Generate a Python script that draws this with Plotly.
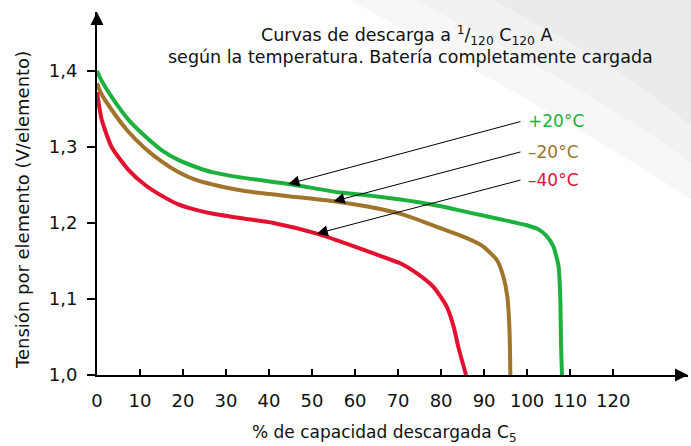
import numpy as np
import plotly.graph_objects as go

# ---- data ----
green_x = [0, 1, 3.4, 7.3, 11.2, 15, 18.9, 22.8, 26.7, 33.3, 44.9, 56.5, 63.5, 70.5, 75.1, 80, 86.3, 93.7, 99.9, 102.5, 104.5, 106.1, 107.3, 107.7, 107.9, 108.1]
green_y = [1.400, 1.388, 1.366, 1.336, 1.314, 1.296, 1.283, 1.274, 1.267, 1.260, 1.251, 1.240, 1.236, 1.231, 1.227, 1.222, 1.214, 1.205, 1.197, 1.192, 1.183, 1.169, 1.143, 1.103, 1.037, 1.000]

brown_x = [0, 1, 3.4, 7.3, 11.2, 15, 18.9, 22.8, 30.5, 34.4, 40.2, 44.9, 55.7, 63.5, 71.2, 79, 86, 89.8, 93, 94.5, 95.4, 95.9, 96.1]
brown_y = [1.384, 1.370, 1.349, 1.320, 1.298, 1.281, 1.267, 1.257, 1.246, 1.242, 1.238, 1.235, 1.228, 1.221, 1.211, 1.195, 1.180, 1.169, 1.151, 1.129, 1.103, 1.059, 1.000]

red_x = [0, 1.1, 3.4, 7.3, 11.2, 15, 18.9, 22.8, 26.7, 34.4, 41, 51.1, 60.4, 68.1, 70.5, 74.3, 78.2, 81.3, 82.9, 84, 85.8]
red_y = [1.372, 1.336, 1.300, 1.270, 1.250, 1.236, 1.2245, 1.2175, 1.2125, 1.2055, 1.200, 1.186, 1.168, 1.152, 1.147, 1.134, 1.116, 1.090, 1.064, 1.037, 1.000]

series_names = ["+20°C", "–20°C", "–40°C"]
x_ticks = [0, 10, 20, 30, 40, 50, 60, 70, 80, 90, 100, 110, 120]
y_ticks = [1.0, 1.1, 1.2, 1.3, 1.4]
y_ticktext = ["1,0", "1,1", "1,2", "1,3", "1,4"]

colors = ["#1cb13c", "#a0742a", "#e3102f"]
FONT = "DejaVu Sans"

# arrow tip x positions on curves, tail position (data coords)
arrow_tip_x = [44.5, 55.0, 51.1]
arrow_tail_x = 98.8
arrow_tail_y = [1.334, 1.294, 1.257]

fig = go.Figure()
for xs, ys, name, col in zip([green_x, brown_x, red_x], [green_y, brown_y, red_y], series_names, colors):
    fig.add_trace(go.Scatter(x=xs, y=ys, mode="lines", name=name,
                             line=dict(color=col, width=4, shape="spline", smoothing=0.6),
                             showlegend=False, hoverinfo="skip"))

annotations = []
curves = [(green_x, green_y), (brown_x, brown_y), (red_x, red_y)]
for (xs, ys), tx, ty, name, col in zip(curves, arrow_tip_x, arrow_tail_y, series_names, colors):
    tip_y = float(np.interp(tx, xs, ys))
    annotations.append(dict(x=tx, y=tip_y, xref="x", yref="y", ax=arrow_tail_x, ay=ty,
                            axref="x", ayref="y", text="", showarrow=True,
                            arrowhead=2, arrowsize=2.2, arrowwidth=1, arrowcolor="#000000"))
    annotations.append(dict(x=arrow_tail_x + 0.9, y=ty, xref="x", yref="y", text=name,
                            showarrow=False, xanchor="left", yanchor="middle",
                            font=dict(family=FONT, size=17, color=col)))

# titles
annotations.append(dict(x=0.523, y=0.9366, xref="paper", yref="paper",
                        text="Curvas de descarga a <sup>1</sup>/<sub>120</sub> C<sub>120</sub> A",
                        showarrow=False, xanchor="center", yanchor="middle",
                        font=dict(family=FONT, size=17.5, color="#111111")))
annotations.append(dict(x=0.530, y=0.876, xref="paper", yref="paper",
                        text="según la temperatura. Batería completamente cargada",
                        showarrow=False, xanchor="center", yanchor="middle",
                        font=dict(family=FONT, size=17.5, color="#111111")))
annotations.append(dict(x=-0.127, y=0.4545, xref="paper", yref="paper", textangle=-90,
                        text="Tensión por elemento (V/elemento)",
                        showarrow=False, xanchor="center", yanchor="middle",
                        font=dict(family=FONT, size=18, color="#111111")))
annotations.append(dict(x=0.487, y=-0.16, xref="paper", yref="paper",
                        text="% de capacidad descargada C<sub>5</sub>",
                        showarrow=False, xanchor="center", yanchor="middle",
                        font=dict(family=FONT, size=17, color="#111111")))
# axis arrowheads
annotations.append(dict(x=1, y=0, xref="paper", yref="paper", ax=-14, ay=0,
                        text="", showarrow=True, arrowhead=2, arrowsize=1.3,
                        arrowwidth=2, arrowcolor="#000000"))
annotations.append(dict(x=0, y=1, xref="paper", yref="paper", ax=0, ay=14,
                        text="", showarrow=True, arrowhead=2, arrowsize=1.3,
                        arrowwidth=2, arrowcolor="#000000"))

# faint grey background sweep in the upper-right corner
shapes = [
    dict(type="path", xref="paper", yref="paper", layer="below", line=dict(width=0),
         fillcolor="#f7f7f7",
         path="M 0.42,1.04 L 1.01,1.04 L 1.01,0.48 Q 0.78,0.72 0.42,1.04 Z"),
    dict(type="path", xref="paper", yref="paper", layer="below", line=dict(width=0),
         fillcolor="#f1f1f1",
         path="M 0.53,1.04 L 1.01,1.04 L 1.01,0.58 Q 0.84,0.78 0.53,1.04 Z"),
    dict(type="path", xref="paper", yref="paper", layer="below", line=dict(width=0),
         fillcolor="#ebebeb",
         path="M 0.66,1.04 L 1.01,1.04 L 1.01,0.68 Q 0.88,0.86 0.66,1.04 Z"),
]

fig.update_layout(
    width=691, height=446,
    margin=dict(l=97, r=3, t=12, b=71),
    paper_bgcolor="white", plot_bgcolor="rgba(0,0,0,0)",
    annotations=annotations, shapes=shapes,
    font=dict(family=FONT, color="#111111"),
    xaxis=dict(range=[0, 137.4], showgrid=False, zeroline=False,
               showline=True, linecolor="#000000", linewidth=2,
               tickvals=x_ticks, ticktext=[str(v) for v in x_ticks],
               ticks="inside", ticklen=6, tickwidth=1.5, tickcolor="#000000",
               ticklabelstandoff=8,
               tickfont=dict(family=FONT, size=18, color="#111111")),
    yaxis=dict(range=[1.0, 1.4776], showgrid=False, zeroline=False,
               showline=True, linecolor="#000000", linewidth=2,
               tickvals=y_ticks, ticktext=y_ticktext,
               ticks="outside", ticklen=8, tickwidth=1.5, tickcolor="#000000",
               ticklabelstandoff=6,
               tickfont=dict(family=FONT, size=18, color="#111111")),
)

fig.write_html("out.html", config={"displayModeBar": False},
               post_script="document.body.style.margin='0';document.body.style.padding='0';")
